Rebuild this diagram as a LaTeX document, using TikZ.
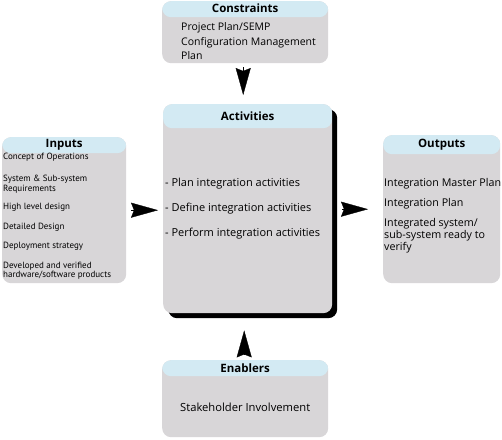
\documentclass[tikz,border=0pt]{standalone}
\usepackage{fontspec}
\setmainfont{Open Sans}
\newfontfamily\narrowfont{PT Sans}
\usetikzlibrary{arrows.meta}
\definecolor{boxgray}{HTML}{D8D6D8}
\definecolor{hdrblue}{HTML}{D3EAF3}
\tikzset{
  panel/.style={fill=boxgray, draw=none, rounded corners=9pt, anchor=north west,
    inner sep=0pt, path picture={\fill[hdrblue] (path picture bounding box.north west)
      rectangle ([yshift=-#1]path picture bounding box.north east);}},
  shadowbox/.style={fill=black, draw=none, rounded corners=9pt, anchor=north west, inner sep=0pt},
  paneltitle/.style={font=\bfseries\fontsize{11.5}{13}\selectfont, inner sep=0pt},
  bodytext/.style={anchor=west, align=left, inner sep=0pt},
  bigarrow/.style={line width=0.3pt, -{Stealth[length=27pt,width=15pt,inset=3pt]}}
}
\begin{document}
\begin{tikzpicture}[x=1pt,y=-1pt]
\fill[white] (0,0) rectangle (502,439);
\useasboundingbox (0,0) rectangle (502,439);

% boxes
\node[panel=16pt, minimum width=166pt, minimum height=62pt] (cons) at (162,1) {};
\node[shadowbox, minimum width=169pt, minimum height=209pt] (actshadow) at (168,109) {};
\node[panel=24pt, minimum width=169pt, minimum height=209pt] (act) at (163,104) {};
\node[panel=16pt, minimum width=124pt, minimum height=146pt] (inp) at (2,137) {};
\node[panel=19pt, minimum width=117pt, minimum height=148pt] (outp) at (383,135) {};
\node[panel=16pt, minimum width=166pt, minimum height=77pt] (ena) at (162,360) {};

% titles
\node[paneltitle] (constitle) at (cons.north |- 0,8) {Constraints};
\node[paneltitle] (acttitle) at (act.north |- 0,116) {Activities};
\node[paneltitle] (inptitle) at (inp.north |- 0,145) {Inputs};
\node[paneltitle] (outptitle) at (outp.north |- 0,145) {Outputs};
\node[paneltitle] (enatitle) at (ena.north |- 0,368) {Enablers};

% body texts
\node[bodytext, font=\fontsize{10.5}{14.5}\selectfont] (constext) at (181,41.5)
  {Project Plan/SEMP\\Configuration Management\\Plan};
\node[bodytext, font=\fontsize{11}{25}\selectfont] (acttext) at (165,209)
  {- Plan integration activities\\- Define integration activities\\- Perform integration activities};
\node[bodytext, font=\narrowfont\fontsize{9}{9.5}\selectfont, anchor=north west] (inptext) at (3,153)
  {Concept of Operations\\[12.5pt]System \& Sub-system\\Requirements\\[8.5pt]High level design\\[10.5pt]Detailed Design\\[9.5pt]Deployment strategy\\[10.5pt]Developed and verified\\hardware/software products};
\node[bodytext, font=\fontsize{10.7}{12}\selectfont, anchor=north west] (outptext) at (384,178)
  {Integration Master Plan\\[8pt]Integration Plan\\[8pt]Integrated system/\\sub-system ready to\\verify};
\node[bodytext, anchor=center, font=\fontsize{11.2}{12}\selectfont] (enatext) at (ena.north |- 0,407)
  {Stakeholder Involvement};

% connectors
\draw[bigarrow, shorten <=4pt, shorten >=9pt] ([xshift=-2pt]cons.south) -- ([xshift=-2pt]cons.south |- act.north);
\draw[bigarrow, shorten <=5pt, shorten >=5pt] (inp.east) -- (inp.east -| act.west);
\draw[bigarrow, shorten <=10pt, shorten >=15pt] (act.east |- outp.west) -- (outp.west);
\draw[bigarrow, shorten <=6pt, shorten >=17pt] ([xshift=-1pt]ena.north) -- ([xshift=-1pt]ena.north |- act.south);
\end{tikzpicture}
\end{document}
